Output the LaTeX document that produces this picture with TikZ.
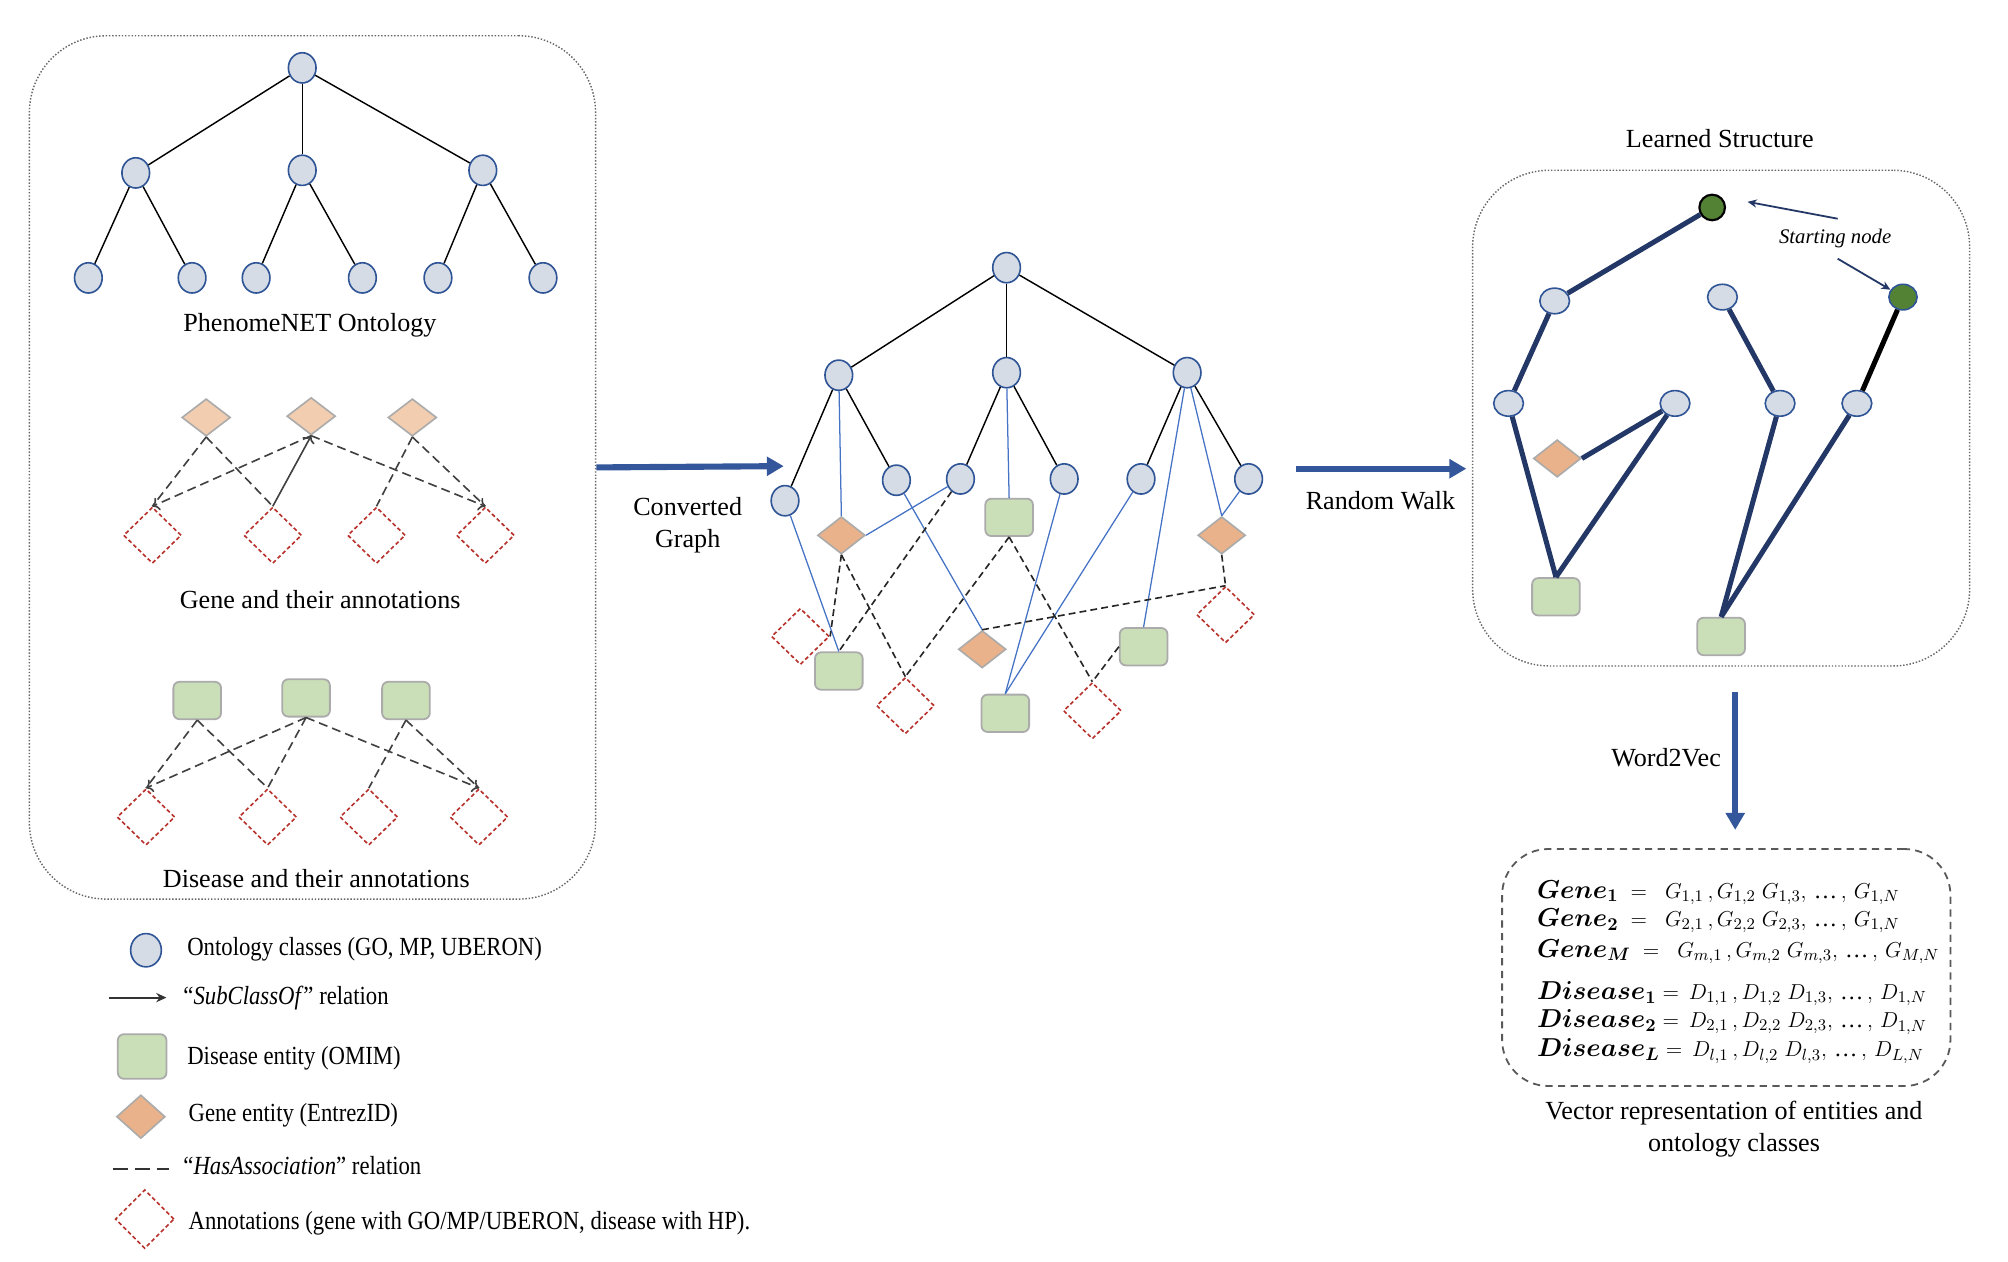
\documentclass[tikz,border=0pt]{standalone}
\usepackage{fontspec}
\setmainfont{Liberation Serif}
\usepackage{amsmath}
\usepackage{graphicx}
\usetikzlibrary{positioning,shapes.geometric,arrows.meta}

\definecolor{ontfill}{HTML}{D6DCE5}
\definecolor{ontline}{HTML}{2F5597}
\definecolor{genelight}{HTML}{F2CDB0}
\definecolor{genefill}{HTML}{E9B28A}
\definecolor{disfill}{HTML}{CADFB8}
\definecolor{boxline}{HTML}{ABABAB}
\definecolor{annline}{HTML}{B8312B}
\definecolor{linkblue}{HTML}{4472C4}
\definecolor{walkblue}{HTML}{233866}
\definecolor{flowblue}{HTML}{34569A}
\definecolor{startgreen}{HTML}{548235}

\newcommand{\narrowtxt}[1]{\scalebox{0.87}[1]{#1}}
\newcommand{\etcdots}{,\,\text{…}\,,\,}
\newcommand{\eqname}[1]{{\fontsize{14.8}{16}\selectfont$\boldsymbol{#1}$}}

\begin{document}
\begin{tikzpicture}[x=0.025cm, y=-0.025cm,
					font=\fontsize{14.5}{17.7}\selectfont,
					onto/.style={ellipse, draw=ontline, fill=ontfill, line width=0.9pt, minimum width=5.4mm, minimum height=5.9mm, inner sep=0pt},
					ontoflat/.style={onto, minimum width=5.8mm, minimum height=5mm},
					lgene/.style={diamond, draw=boxline, fill=genelight, line width=0.9pt, minimum width=9.5mm, minimum height=7.3mm, inner sep=0pt},
					gene/.style={lgene, fill=genefill, minimum width=9.3mm, minimum height=7.3mm},
					dis/.style={rectangle, rounded corners=1.2mm, draw=boxline, fill=disfill, line width=1pt, minimum width=9.3mm, minimum height=7.3mm, inner sep=0pt},
					annot/.style={diamond, draw=annline, fill=white, line width=0.9pt, dash pattern=on 2.2pt off 1.5pt, minimum width=11.3mm, minimum height=11mm, inner sep=0pt},
					panel/.style={rectangle, draw=black!60, densely dotted, line width=0.8pt, rounded corners=1.5cm, inner sep=0pt},
					tree/.style={black, line width=0.8pt},
					has/.style={black!75, line width=0.9pt, dash pattern=on 5pt off 2.8pt},
					link/.style={linkblue, line width=0.7pt},
					mhas/.style={black!85, line width=0.9pt, dash pattern=on 3.8pt off 2.3pt},
					walk/.style={walkblue, line width=2.8pt},
					flow/.style={flowblue, line width=3.4pt, -{Triangle[length=3.3mm,width=3.6mm]}},
					pointer/.style={walkblue, line width=1pt, -{Stealth[length=1.8mm,width=1.6mm]}},
					legtext/.style={anchor=west, inner sep=0pt},
					eqtext/.style={anchor=west, inner sep=0pt, font=\fontsize{13}{15}\selectfont}
				]
				\useasboundingbox (0,0) rectangle (1568,985);

				\node[panel, minimum width=11.05cm, minimum height=16.85cm] (leftpanel) at (244,365) {};
				\node[onto] (ontroot) at (236,53) {};
				\node[onto] (onta) at (106,135) {};
				\node[onto] (ontb) at (236,133) {};
				\node[onto] (ontc) at (377,133) {};
				\node[onto] (onta1) at (69,217) {};
				\node[onto] (onta2) at (150,217) {};
				\node[onto] (ontb1) at (200,217) {};
				\node[onto] (ontb2) at (283,217) {};
				\node[onto] (ontc1) at (342,217) {};
				\node[onto] (ontc2) at (424,217) {};
				\node (ontlabel) at (242,254) {PhenomeNET Ontology};
				\draw[tree] (ontroot) -- (onta);
				\draw[tree] (ontroot) -- (ontb);
				\draw[tree] (ontroot) -- (ontc);
				\draw[tree] (onta) -- (onta1);
				\draw[tree] (onta) -- (onta2);
				\draw[tree] (ontb) -- (ontb1);
				\draw[tree] (ontb) -- (ontb2);
				\draw[tree] (ontc) -- (ontc1);
				\draw[tree] (ontc) -- (ontc2);

				\node[lgene] (gl1) at (161,326) {};
				\node[lgene] (gl2) at (243,325) {};
				\node[lgene] (gl3) at (322,326) {};
				\node[annot] (ga1) at (119,418) {};
				\node[annot] (ga2) at (213,418) {};
				\node[annot] (ga3) at (294,418) {};
				\node[annot] (ga4) at (379,418) {};
				\node (genelabel) at (250,468) {Gene and their annotations};
				\draw[has] (gl1.south) -- (ga1.north);
				\draw[has] (gl1.south) -- (ga2.north);
				\draw[has, ->] (gl2.south) -- (ga1.north);
				\draw[black!75, line width=0.9pt, <-] (gl2.south) -- (ga2.north);
				\draw[has, ->] (gl2.south) -- (ga4.north);
				\draw[has] (gl3.south) -- (ga3.north);
				\draw[has] (gl3.south) -- (ga4.north);

				\node[dis] (dl1) at (154,547) {};
				\node[dis] (dl2) at (239,545) {};
				\node[dis] (dl3) at (317,547) {};
				\node[annot] (da1) at (114,638) {};
				\node[annot] (da2) at (209,638) {};
				\node[annot] (da3) at (288,638) {};
				\node[annot] (da4) at (374,638) {};
				\node (dislabel) at (247,686) {Disease and their annotations};
				\draw[has] (dl1.south) -- (da1.north);
				\draw[has] (dl1.south) -- (da2.north);
				\draw[has, ->] (dl2.south) -- (da1.north);
				\draw[has] (dl2.south) -- (da2.north);
				\draw[has, ->] (dl2.south) -- (da4.north);
				\draw[has] (dl3.south) -- (da3.north);
				\draw[has] (dl3.south) -- (da4.north);

				\coordinate (convhead) at (612,364);
				\draw[flow] (leftpanel.east) -- (convhead);
				\node[align=center] (convlabel) at (537,410) {Converted\\Graph};

				\node[onto] (mroot) at (786,209) {};
				\node[onto] (ma) at (655,293) {};
				\node[onto] (mb) at (786,291) {};
				\node[onto] (mc) at (927,291) {};
				\node[onto] (ma1) at (613,391) {};
				\node[onto] (ma2) at (700,375) {};
				\node[onto] (mb1) at (750,374) {};
				\node[onto] (mb2) at (831,374) {};
				\node[onto] (mc1) at (891,374) {};
				\node[onto] (mc2) at (975,374) {};
				\node[gene] (mgene1) at (657,418) {};
				\node[gene] (mgene2) at (954,418) {};
				\node[gene] (mgene3) at (767,507) {};
				\node[dis] (mdis1) at (788,404) {};
				\node[dis] (mdis2) at (655,524) {};
				\node[dis] (mdis3) at (785,557) {};
				\node[dis] (mdis4) at (893,505) {};
				\node[annot] (mann1) at (625,497) {};
				\node[annot] (mann2) at (707,551) {};
				\node[annot] (mann3) at (853,555) {};
				\node[annot] (mann4) at (957,480) {};
				\draw[tree] (mroot) -- (ma);
				\draw[tree] (mroot) -- (mb);
				\draw[tree] (mroot) -- (mc);
				\draw[tree] (ma) -- (ma1);
				\draw[tree] (ma) -- (ma2);
				\draw[tree] (mb) -- (mb1);
				\draw[tree] (mb) -- (mb2);
				\draw[tree] (mc) -- (mc1);
				\draw[tree] (mc) -- (mc2);
				\draw[link] (ma) -- (mgene1.north);
				\draw[link] (mgene1.east) -- (mb1);
				\draw[link] (ma1) -- (mdis2.north);
				\draw[link] (ma2) -- (mgene3.north);
				\draw[link] (mb) -- (mdis1.north);
				\draw[link] (mb2) -- (mdis3.north);
				\draw[link] (mc1) -- (mdis3.north);
				\draw[link] (mc) -- (mdis4.north);
				\draw[link] (mc) -- (mgene2.north);
				\draw[link] (mc2) -- (mgene2.north);
				\draw[mhas] (mgene1.south) -- (mann1.east);
				\draw[mhas] (mgene1.south) -- (mann2.north);
				\draw[mhas] (mb1) -- (mdis2.north);
				\draw[mhas] (mdis1.south) -- (mann2.north);
				\draw[mhas] (mdis1.south) -- (mann3.north);
				\draw[mhas] (mgene3.north) -- (mann4.north);
				\draw[mhas] (mgene2.south) -- (mann4.north);
				\draw[mhas] (mdis4.west) -- (mann3.north);

				\coordinate (walktail) at (1012,366);
				\coordinate (walkhead) at (1145,366);
				\draw[flow] (walktail) -- (walkhead);
				\node (walklabel) at (1078,391) {Random Walk};

				\node (learnedlabel) at (1343,108) {Learned Structure};
				\node[panel, minimum width=9.7cm, minimum height=9.675cm] (rightpanel) at (1344,326.5) {};
				\node[circle, draw=black, fill=startgreen, line width=1.2pt, minimum size=5mm, inner sep=0pt] (rstart) at (1337,162) {};
				\node[ontoflat, fill=startgreen, minimum width=5.5mm] (rstarttwo) at (1486,232) {};
				\node[ontoflat] (ra) at (1214,235) {};
				\node[ontoflat] (rb) at (1345,232) {};
				\node[ontoflat] (rc) at (1178,315) {};
				\node[ontoflat] (rd) at (1308,315) {};
				\node[ontoflat] (re) at (1390,315) {};
				\node[ontoflat] (rf) at (1450,315) {};
				\node[gene] (rgene) at (1216,358) {};
				\node[dis] (rdisa) at (1215,466) {};
				\node[dis] (rdisb) at (1344,497) {};
				\draw[walk] (rstart) -- (ra);
				\draw[walk] (ra) -- (rc);
				\draw[walk] (rc) -- (rdisa.north);
				\draw[walk] (rd) -- (rdisa.north);
				\draw[walk] (rd) -- (rgene.east);
				\draw[walk] (rb) -- (re);
				\draw[walk] (re) -- (rdisb.north);
				\draw[walk] (rf) -- (rdisb.north);
				\draw[walk, black] (rstarttwo) -- (rf);
				\node[inner sep=0pt, font=\fontsize{11.5}{13}\selectfont\itshape] (startlabel) at (1433,186) {Starting node};
				\draw[pointer] ([xshift=0.05cm,yshift=0.19cm]startlabel.north) -- ([xshift=0.42cm,yshift=0.11cm]rstart.east);
				\draw[pointer] ([xshift=0.05cm,yshift=-0.21cm]startlabel.south) -- (rstarttwo);

				\coordinate (wordtail) at (1355,540);
				\coordinate (wordhead) at (1355,648);
				\draw[flow] (wordtail) -- (wordhead);
				\node (wordlabel) at (1301,592) {Word2Vec};

				\node[rectangle, draw=black!65, line width=1pt, dash pattern=on 4pt off 3pt, rounded corners=0.9cm, minimum width=8.75cm, minimum height=4.625cm] (vecbox) at (1348,755.5) {};
				\node[eqtext] (eqgeneone) at (1200,697) {\eqname{Gene_1}$\;\;=\;\;G_{1,1}\,,G_{1,2}\;G_{1,3}\etcdots G_{1,N}$};
				\node[eqtext] (eqgenetwo) at (1200,719) {\eqname{Gene_2}$\;\;=\;\;G_{2,1}\,,G_{2,2}\;G_{2,3}\etcdots G_{1,N}$};
				\node[eqtext] (eqgenem) at (1200,743) {\eqname{Gene_M}$\;\;=\;\;G_{m,1}\,,G_{m,2}\;G_{m,3}\etcdots G_{M,N}$};
				\node[eqtext] (eqdisone) at (1200,776) {\eqname{Disease_1}$\;=\,D_{1,1}\,,D_{1,2}\;D_{1,3}\etcdots D_{1,N}$};
				\node[eqtext] (eqdistwo) at (1200,798) {\eqname{Disease_2}$\;=\,D_{2,1}\,,D_{2,2}\;D_{2,3}\etcdots D_{1,N}$};
				\node[eqtext] (eqdisl) at (1200,821) {\eqname{Disease_L}$\;=\,D_{l,1}\,,D_{l,2}\;D_{l,3}\etcdots D_{L,N}$};
				\node[align=center] (veclabel) at (1354,882) {Vector representation of entities and\\ontology classes};

				\node[onto, minimum width=6mm, minimum height=6.5mm] (legonto) at (114,742) {};
				\node[legtext] (legontotext) at (146,741) {\narrowtxt{Ontology classes (GO, MP, UBERON)}};
				\coordinate (legsubtail) at (85,779);
				\coordinate (legsubhead) at (130,779);
				\draw[black!80, line width=1pt, -{Stealth[length=2mm,width=1.8mm]}] (legsubtail) -- (legsubhead);
				\node[legtext] (legsubtext) at (143,779) {\narrowtxt{“\textit{SubClassOf}” relation}};
				\node[dis, minimum width=9.5mm, minimum height=8.7mm] (legdis) at (111,825) {};
				\node[legtext] (legdistext) at (146,826) {\narrowtxt{Disease entity (OMIM)}};
				\node[gene, minimum width=9.5mm, minimum height=8.5mm] (leggene) at (110,872) {};
				\node[legtext] (leggenetext) at (147,871) {\narrowtxt{Gene entity (EntrezID)}};
				\coordinate (leghastail) at (88,913);
				\coordinate (leghashead) at (132,913);
				\draw[black!80, line width=1pt, dash pattern=on 8.5pt off 3.7pt] (leghastail) -- (leghashead);
				\node[legtext] (leghastext) at (143,910) {\narrowtxt{“\textit{HasAssociation}” relation}};
				\node[annot, minimum width=11.5mm, minimum height=11.5mm] (legann) at (113,952) {};
				\node[legtext] (leganntext) at (147,955) {\narrowtxt{Annotations (gene with GO/MP/UBERON, disease with HP).}};
				\end{tikzpicture}
\end{document}
